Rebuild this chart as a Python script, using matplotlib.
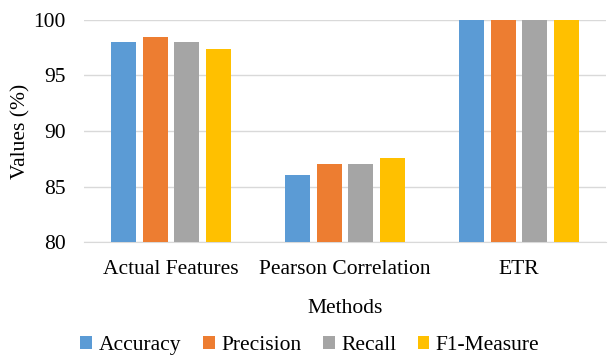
import numpy as np
import matplotlib.pyplot as plt

plt.rcParams['font.family'] = ['Liberation Serif', 'DejaVu Serif']

# --- data ---
methods = ['Actual Features', 'Pearson Correlation', 'ETR']
metrics = ['Accuracy', 'Precision', 'Recall', 'F1-Measure']
accuracy = [98.0, 86.0, 100.0]
precision = [98.5, 87.0, 100.0]
recall = [98.0, 87.0, 100.0]
f1_measure = [97.4, 87.6, 100.0]
series = [accuracy, precision, recall, f1_measure]
colors = ['#5B9BD5', '#ED7D31', '#A5A5A5', '#FFC000']

fs = 15.5

fig = plt.figure(figsize=(6.09, 3.55), dpi=100)
ax = fig.add_axes([0.138, 0.318, 0.857, 0.626])

x = np.arange(len(methods))
width = 0.144
step = 0.181
for i, (vals, c) in enumerate(zip(series, colors)):
    ax.bar(x + (i - 1.5) * step, vals, width, color=c, label=metrics[i], zorder=3)

ax.set_xlim(-0.5, 2.5)
ax.set_ylim(80, 100)
ax.set_yticks([80, 85, 90, 95, 100])
ax.set_xticks(x)
ax.set_xticklabels(methods)
ax.grid(axis='y', color='#D9D9D9', lw=1, zorder=0)
for s in ['top', 'right', 'left']:
    ax.spines[s].set_visible(False)
ax.spines['bottom'].set_color('#D9D9D9')
ax.tick_params(axis='y', length=0, labelsize=fs, pad=13)
ax.tick_params(axis='x', length=0, labelsize=fs, pad=13)
ax.set_ylabel('Values (%)', fontsize=fs)
ax.yaxis.set_label_coords(-0.102, 0.5)
ax.set_xlabel('Methods', fontsize=fs, labelpad=14)

fig.legend(loc='lower center', bbox_to_anchor=(0.509, -0.055), ncol=4, frameon=False,
           fontsize=fs, handlelength=0.55, handleheight=0.55, handletextpad=0.3,
           columnspacing=1.0)

fig.savefig('out.png', dpi=100)
